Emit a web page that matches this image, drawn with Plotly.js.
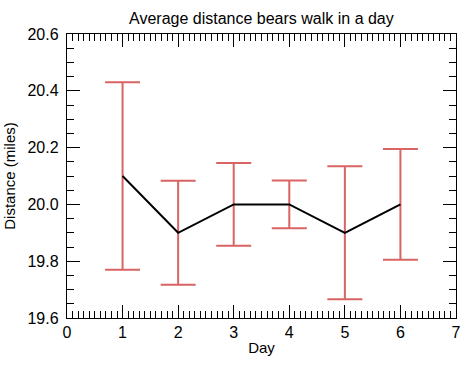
<!DOCTYPE html>
<html><head><meta charset="utf-8">
<script src="https://cdn.plot.ly/plotly-3.0.1.min.js"></script>
<style>html,body{margin:0;padding:0;background:#fff}#c{width:471px;height:366px}</style>
</head><body><div id="c"></div>
<script>
const days = [1, 2, 3, 4, 5, 6];
const distance = [20.1, 19.9, 20.0, 20.0, 19.9, 20.0];
const errors = [0.33, 0.183, 0.146, 0.084, 0.234, 0.195];

const fam = 'Liberation Sans, Arial, sans-serif';
const tickFont = {family: fam, size: 16, color: '#000'};
const titleFont = {family: fam, size: 15, color: '#000'};
const axisCommon = {
  showline: true, linecolor: '#000', linewidth: 1.2, mirror: 'ticks',
  ticks: 'inside', tickcolor: '#000', tickwidth: 1, ticklen: 13,
  showgrid: false, zeroline: false, tickfont: tickFont
};
Plotly.newPlot('c', [
  {x: days, y: distance, type: 'scatter', mode: 'lines',
   line: {color: '#000', width: 2},
   error_y: {type: 'data', array: errors, visible: true, color: '#d96464', thickness: 2, width: 17.5},
   hoverinfo: 'none'}
], {
  width: 471, height: 366,
  margin: {l: 66.5, r: 14.5, t: 34, b: 47.5},
  paper_bgcolor: '#fff', plot_bgcolor: '#fff',
  showlegend: false,
  font: titleFont,
  title: {text: 'Average distance bears walk in a day', font: {family: fam, size: 16, color: '#000'}, x: 0.555, xanchor: 'center', y: 0.95, yanchor: 'middle'},
  xaxis: Object.assign({}, axisCommon, {
    range: [0, 7], dtick: 1, tick0: 0,
    minor: {ticks: 'inside', dtick: 0.1, ticklen: 7, tickcolor: '#000', tickwidth: 1, showgrid: false},
    title: {text: 'Day', font: titleFont, standoff: 2}
  }),
  yaxis: Object.assign({}, axisCommon, {
    range: [19.6, 20.6], dtick: 0.2, tick0: 19.6, tickformat: '.1f',
    ticklabelstandoff: 4,
    minor: {ticks: 'inside', dtick: 0.05, ticklen: 7, tickcolor: '#000', tickwidth: 1, showgrid: false},
    title: {text: 'Distance (miles)', font: titleFont, standoff: 8}
  })
}, {staticPlot: true});
</script></body></html>
